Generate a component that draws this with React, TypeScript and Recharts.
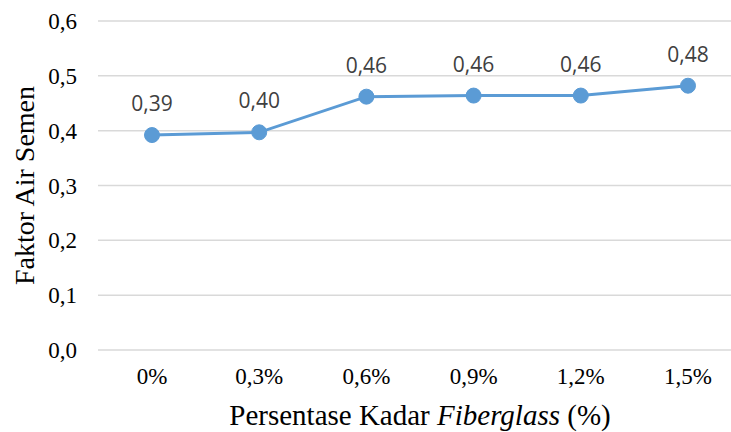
import { CartesianGrid, Label, LabelList, Line, LineChart, XAxis, YAxis } from "recharts";

const kadar = ["0%", "0,3%", "0,6%", "0,9%", "1,2%", "1,5%"];
const faktorAirSemen = [0.392, 0.397, 0.462, 0.464, 0.464, 0.482];
const yTicks = [0, 0.1, 0.2, 0.3, 0.4, 0.5, 0.6];

const data = kadar.map((k, i) => ({ kadar: k, fas: faktorAirSemen[i] }));

const fmt = (v: number) => v.toFixed(1).replace(".", ",");
const fmt2 = (v: any) => Number(v).toFixed(2).replace(".", ",");

export default function App() {
  return (
    <div style={{ position: "absolute", left: 0, top: 0, width: 731, height: 432, overflow: "hidden", background: "#fff" }}>
      <LineChart width={742} height={432} data={data} margin={{ top: 21, right: 0, left: 0, bottom: 0 }}>
        <CartesianGrid vertical={false} stroke="#d9d9d9" strokeWidth={1.5} />
        <XAxis
          dataKey="kadar"
          axisLine={false}
          tickLine={false}
          height={82}
          tickMargin={12}
          padding={{ left: 54, right: 54 }}
          interval={0}
          tick={{ fill: "#000", fontFamily: "Liberation Serif", fontSize: 23 }}
        >
          <Label
            content={(p: any) => {
              const vb = p.viewBox;
              return (
                <text
                  x={vb.x + vb.width / 2}
                  y={vb.y + 75}
                  textAnchor="middle"
                  fontFamily="Liberation Serif"
                  fontSize={29}
                  fill="#000"
                >
                  Persentase Kadar <tspan fontStyle="italic">Fiberglass</tspan> (%)
                </text>
              );
            }}
          />
        </XAxis>
        <YAxis
          domain={[0, 0.6]}
          ticks={yTicks}
          tickFormatter={fmt}
          axisLine={false}
          tickLine={false}
          width={98}
          tickMargin={15}
          tick={{ fill: "#000", fontFamily: "Liberation Serif", fontSize: 23 }}
        >
          <Label
            value="Faktor Air Semen"
            angle={-90}
            position="insideLeft"
            offset={24}
            style={{ textAnchor: "middle", fontFamily: "Liberation Serif", fontSize: 28, fill: "#000" }}
          />
        </YAxis>
        <Line
          dataKey="fas"
          stroke="#5b9bd5"
          strokeWidth={3}
          dot={{ r: 7.5, fill: "#5b9bd5", stroke: "#5b9bd5", strokeWidth: 1 }}
          isAnimationActive={false}
        >
          <LabelList
            dataKey="fas"
            position="top"
            offset={24}
            formatter={fmt2}
            style={{ fill: "#404040", fontFamily: "Open Sans", fontSize: 21 }}
          />
        </Line>
      </LineChart>
    </div>
  );
}
